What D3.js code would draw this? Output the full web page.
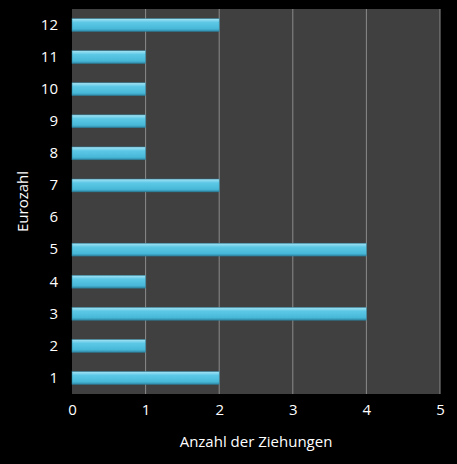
<!DOCTYPE html>
<html><head><meta charset="utf-8">
<script src="https://cdn.jsdelivr.net/npm/d3@7"></script>
<style>body{margin:0;background:#000}</style>
</head><body>
<svg id="c" width="457" height="464"></svg>
<script>
var categories=["1","2","3","4","5","6","7","8","9","10","11","12"];
var values=[2,1,4,1,4,0,2,1,1,1,1,2];
var xTicks=[0,1,2,3,4,5];

var svg=d3.select('#c');
var mLeft=72,mRight=440,mTop=9,mBottom=394;
svg.append('rect').attr('width',457).attr('height',464).attr('fill','#000');
var defs=svg.append('defs');
var g=defs.append('linearGradient').attr('id','bar').attr('x1',0).attr('y1',0).attr('x2',0).attr('y2',1);
g.append('stop').attr('offset','0').attr('stop-color','#a8e4f4');
g.append('stop').attr('offset','0.3').attr('stop-color','#5cc8e6');
g.append('stop').attr('offset','0.8').attr('stop-color','#48b8d8');
g.append('stop').attr('offset','1').attr('stop-color','#2e86a4');

var x=d3.scaleLinear().domain([0,5]).range([mLeft,mRight]);
var y=d3.scaleBand().domain(categories.slice().reverse()).range([mTop,mBottom]).paddingInner(0.6).paddingOuter(0.3);

svg.append('rect').attr('x',mLeft).attr('y',mTop).attr('width',mRight-mLeft).attr('height',mBottom-mTop).attr('fill','#404040');
svg.selectAll('.grid').data(xTicks.slice(1)).enter().append('line')
  .attr('x1',function(d){return x(d);}).attr('x2',function(d){return x(d);})
  .attr('y1',mTop).attr('y2',mBottom).attr('stroke','#8a8a8a').attr('stroke-width',1);

svg.selectAll('.bar').data(values).enter().append('rect')
  .attr('x',x(0)).attr('y',function(d,i){return y(categories[i]);})
  .attr('width',function(d){return x(d)-x(0);}).attr('height',y.bandwidth())
  .attr('fill','url(#bar)').attr('stroke','#2a7f9a').attr('stroke-width',0.5);

var xa=svg.append('g').attr('transform','translate(0,'+mBottom+')')
  .call(d3.axisBottom(x).tickValues(xTicks).tickFormat(d3.format('d')).tickSize(0).tickPadding(10));
var ya=svg.append('g').attr('transform','translate('+mLeft+',0)')
  .call(d3.axisLeft(y).tickSize(0).tickPadding(14));
[xa,ya].forEach(function(a){
  a.select('.domain').remove();
  a.selectAll('text').attr('fill','#fff').style('font-family','Open Sans, sans-serif').style('font-size','15px');
});
svg.append('text').attr('x',(mLeft+mRight)/2).attr('y',447).attr('text-anchor','middle')
  .attr('fill','#fff').style('font-family','Open Sans, sans-serif').style('font-size','15px').text('Anzahl der Ziehungen');
svg.append('text').attr('transform','translate(28,'+(mTop+mBottom)/2+') rotate(-90)').attr('text-anchor','middle')
  .attr('fill','#fff').style('font-family','Open Sans, sans-serif').style('font-size','15px').text('Eurozahl');
</script>
</body></html>
